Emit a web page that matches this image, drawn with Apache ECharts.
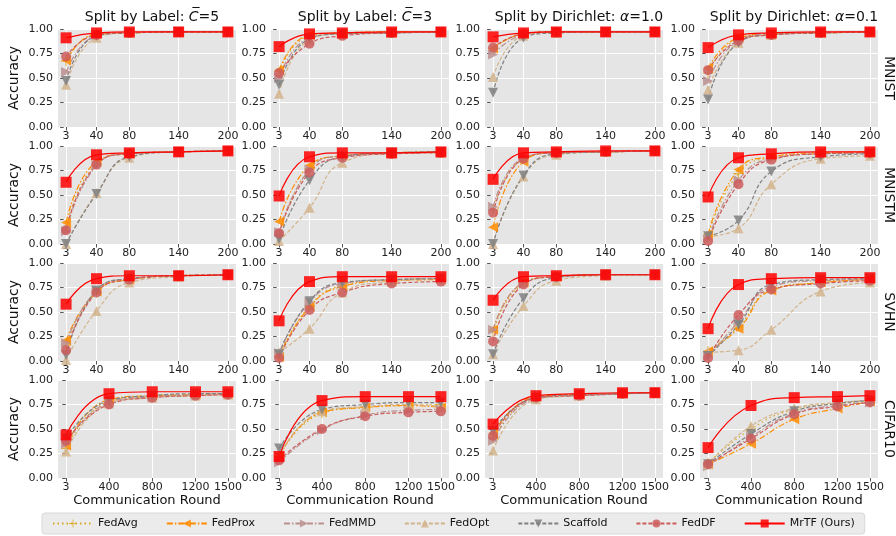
<!DOCTYPE html>
<html>
<head>
<meta charset="utf-8" />
<title>Accuracy vs communication round</title>
<style>
  body { margin: 0; background: #fff; }
  #chart { width: 896px; height: 536px; }
</style>
<script src="https://cdn.jsdelivr.net/npm/echarts@6/dist/echarts.min.js"></script>
</head>
<body>
<div id="chart"></div>
<script>
// x axis rounds (CIFAR10 row uses the long schedule)
var roundsShort = [3, 40, 80, 140, 200];
var roundsLong = [3, 400, 800, 1200, 1500];

var datasets = ['MNIST', 'MNISTM', 'SVHN', 'CIFAR10'];
var splitTitles = [
    '{n|Split by Label: }{i|C\u0305}{n|=5}',
    '{n|Split by Label: }{i|C\u0305}{n|=3}',
    '{n|Split by Dirichlet: }{i|\u03b1}{n|=1.0}',
    '{n|Split by Dirichlet: }{i|\u03b1}{n|=0.1}'
];

// accuracy per method, one row per panel (MNIST x 4 splits, MNISTM x 4, SVHN x 4, CIFAR10 x 4)
var fedAvg = [
    [0.67, 0.95, 0.96, 0.97, 0.97], [0.57, 0.93, 0.96, 0.97, 0.97], [0.80, 0.95, 0.97, 0.97, 0.97], [0.55, 0.90, 0.95, 0.96, 0.97],
    [0.17, 0.82, 0.92, 0.94, 0.95], [0.08, 0.77, 0.90, 0.93, 0.94], [0.35, 0.87, 0.93, 0.94, 0.95], [0.08, 0.72, 0.88, 0.92, 0.93],
    [0.16, 0.70, 0.83, 0.87, 0.88], [0.05, 0.56, 0.77, 0.83, 0.84], [0.30, 0.79, 0.86, 0.88, 0.88], [0.10, 0.35, 0.73, 0.80, 0.83],
    [0.30, 0.78, 0.83, 0.85, 0.86], [0.22, 0.66, 0.72, 0.74, 0.75], [0.40, 0.82, 0.85, 0.86, 0.87], [0.15, 0.50, 0.70, 0.76, 0.78]
];
var fedProx = [
    [0.68, 0.95, 0.96, 0.97, 0.97], [0.58, 0.94, 0.96, 0.97, 0.97], [0.80, 0.95, 0.97, 0.97, 0.97], [0.60, 0.91, 0.95, 0.96, 0.97],
    [0.22, 0.84, 0.92, 0.94, 0.95], [0.23, 0.80, 0.90, 0.93, 0.94], [0.17, 0.84, 0.93, 0.94, 0.95], [0.10, 0.76, 0.89, 0.93, 0.94],
    [0.21, 0.71, 0.83, 0.87, 0.88], [0.04, 0.55, 0.76, 0.82, 0.83], [0.32, 0.80, 0.86, 0.88, 0.88], [0.10, 0.33, 0.72, 0.80, 0.83],
    [0.33, 0.80, 0.84, 0.85, 0.86], [0.22, 0.67, 0.72, 0.74, 0.72], [0.45, 0.83, 0.85, 0.86, 0.87], [0.14, 0.35, 0.60, 0.71, 0.78]
];
var fedMMD = [
    [0.56, 0.93, 0.96, 0.97, 0.97], [0.50, 0.91, 0.95, 0.96, 0.97], [0.74, 0.94, 0.97, 0.97, 0.97], [0.47, 0.88, 0.95, 0.96, 0.97],
    [0.13, 0.80, 0.92, 0.94, 0.95], [0.12, 0.76, 0.90, 0.93, 0.94], [0.38, 0.88, 0.93, 0.94, 0.95], [0.05, 0.65, 0.87, 0.92, 0.93],
    [0.18, 0.72, 0.84, 0.87, 0.88], [0.08, 0.60, 0.79, 0.83, 0.84], [0.32, 0.80, 0.86, 0.88, 0.88], [0.05, 0.40, 0.76, 0.82, 0.83],
    [0.35, 0.77, 0.83, 0.85, 0.86], [0.16, 0.49, 0.64, 0.69, 0.70], [0.38, 0.81, 0.84, 0.86, 0.87], [0.12, 0.42, 0.66, 0.74, 0.77]
];
var fedOpt = [
    [0.43, 0.91, 0.96, 0.97, 0.97], [0.34, 0.89, 0.95, 0.96, 0.97], [0.51, 0.93, 0.96, 0.97, 0.97], [0.38, 0.86, 0.94, 0.96, 0.97],
    [0.00, 0.52, 0.88, 0.94, 0.95], [0.03, 0.37, 0.83, 0.92, 0.93], [0.00, 0.69, 0.91, 0.94, 0.95], [0.08, 0.16, 0.61, 0.87, 0.90],
    [0.01, 0.51, 0.80, 0.86, 0.88], [0.09, 0.33, 0.70, 0.81, 0.84], [0.07, 0.56, 0.82, 0.87, 0.88], [0.09, 0.11, 0.32, 0.71, 0.80],
    [0.27, 0.76, 0.82, 0.84, 0.85], [0.22, 0.68, 0.73, 0.75, 0.73], [0.28, 0.80, 0.84, 0.86, 0.87], [0.14, 0.53, 0.71, 0.77, 0.79]
];
var scaffold = [
    [0.47, 0.93, 0.96, 0.97, 0.97], [0.43, 0.90, 0.95, 0.96, 0.97], [0.35, 0.91, 0.96, 0.97, 0.97], [0.28, 0.86, 0.94, 0.96, 0.97],
    [0.00, 0.51, 0.89, 0.94, 0.95], [0.05, 0.65, 0.89, 0.93, 0.94], [0.00, 0.70, 0.92, 0.94, 0.95], [0.08, 0.24, 0.74, 0.89, 0.92],
    [0.06, 0.72, 0.84, 0.87, 0.88], [0.07, 0.61, 0.80, 0.83, 0.84], [0.07, 0.64, 0.85, 0.88, 0.88], [0.05, 0.37, 0.78, 0.83, 0.84],
    [0.40, 0.79, 0.84, 0.86, 0.86], [0.30, 0.70, 0.75, 0.77, 0.77], [0.48, 0.82, 0.85, 0.86, 0.87], [0.14, 0.45, 0.68, 0.76, 0.79]
];
var fedDF = [
    [0.72, 0.94, 0.96, 0.97, 0.97], [0.55, 0.85, 0.93, 0.96, 0.97], [0.81, 0.95, 0.97, 0.97, 0.97], [0.58, 0.88, 0.94, 0.96, 0.97],
    [0.14, 0.81, 0.92, 0.94, 0.95], [0.11, 0.73, 0.88, 0.92, 0.93], [0.32, 0.87, 0.93, 0.94, 0.95], [0.03, 0.61, 0.86, 0.92, 0.93],
    [0.11, 0.70, 0.83, 0.87, 0.88], [0.03, 0.52, 0.70, 0.79, 0.81], [0.20, 0.78, 0.86, 0.88, 0.88], [0.03, 0.47, 0.73, 0.79, 0.82],
    [0.38, 0.75, 0.82, 0.84, 0.85], [0.18, 0.50, 0.63, 0.67, 0.68], [0.43, 0.82, 0.84, 0.86, 0.87], [0.14, 0.40, 0.65, 0.73, 0.77]
];
var mrTF = [
    [0.91, 0.96, 0.97, 0.97, 0.97], [0.82, 0.95, 0.96, 0.97, 0.97], [0.92, 0.96, 0.97, 0.97, 0.97], [0.81, 0.94, 0.96, 0.97, 0.97],
    [0.63, 0.91, 0.93, 0.94, 0.95], [0.49, 0.89, 0.93, 0.93, 0.94], [0.66, 0.93, 0.94, 0.95, 0.95], [0.48, 0.88, 0.92, 0.94, 0.94],
    [0.58, 0.84, 0.87, 0.87, 0.88], [0.41, 0.81, 0.86, 0.86, 0.86], [0.62, 0.86, 0.87, 0.88, 0.88], [0.33, 0.78, 0.84, 0.85, 0.85],
    [0.44, 0.86, 0.88, 0.88, 0.88], [0.22, 0.79, 0.83, 0.83, 0.83], [0.55, 0.84, 0.86, 0.87, 0.87], [0.31, 0.74, 0.82, 0.83, 0.84]
];

var plusPath = 'path://M4.5,0h1v10h-1zM0,4.5h10v1h-10z';
var methods = [
    { name: 'FedAvg', data: fedAvg, color: '#daa520', dash: [1.5, 3], symbol: plusPath, rotate: 0, size: 10 },
    { name: 'FedProx', data: fedProx, color: '#ff8c00', dash: [6, 2, 1.5, 2], symbol: 'triangle', rotate: 90, size: 10 },
    { name: 'FedMMD', data: fedMMD, color: '#bc8f8f', dash: [6, 2, 1.5, 2], symbol: 'triangle', rotate: -90, size: 10 },
    { name: 'FedOpt', data: fedOpt, color: '#d2b48c', dash: [4, 2], symbol: 'triangle', rotate: 0, size: 10 },
    { name: 'Scaffold', data: scaffold, color: '#808080', dash: [4, 2], symbol: 'triangle', rotate: 180, size: 10 },
    { name: 'FedDF', data: fedDF, color: '#cd5c5c', dash: [4, 2], symbol: 'circle', rotate: 0, size: 10 },
    { name: 'MrTF (Ours)', data: mrTF, color: '#ff0000', dash: 'solid', symbol: 'rect', rotate: 0, size: 11 }
];

var colLeft = [58, 271, 485, 700];
var rowTop = [29, 146, 263, 380];
var plotW = 178, plotH = 98;
var font = 'DejaVu Sans';

var grids = [], xAxes = [], yAxes = [], series = [], titles = [], graphics = [];

for (var r = 0; r < 4; r++) {
    var rounds = r === 3 ? roundsLong : roundsShort;
    var span = rounds[rounds.length - 1] - rounds[0];
    for (var c = 0; c < 4; c++) {
        var g = r * 4 + c;
        grids.push({
            left: colLeft[c], top: rowTop[r], width: plotW, height: plotH,
            show: true, backgroundColor: '#e5e5e5', borderWidth: 0
        });
        xAxes.push({
            type: 'value', gridIndex: g,
            min: rounds[0] - span * 0.05, max: rounds[rounds.length - 1] + span * 0.05,
            axisLine: { show: false },
            axisTick: { show: true, length: 3.5, customValues: rounds, lineStyle: { color: '#555' } },
            axisLabel: {
                customValues: rounds, fontSize: 11, color: '#222', fontFamily: font, margin: 4,
                formatter: function (v) { return String(v); }
            },
            splitLine: { show: true, lineStyle: { color: '#fff', width: 1 } },
            name: r === 3 ? 'Communication Round' : '',
            nameLocation: 'middle', nameGap: 16,
            nameTextStyle: { fontSize: 13, color: '#111', fontFamily: font }
        });
        yAxes.push({
            type: 'value', gridIndex: g, min: 0, max: 1, interval: 0.25,
            axisLine: { show: false },
            axisTick: { show: true, length: 3.5, lineStyle: { color: '#555' } },
            axisLabel: {
                fontSize: 11, color: '#222', fontFamily: font, margin: 5,
                formatter: function (v) { return v.toFixed(2); }
            },
            splitLine: { show: true, lineStyle: { color: '#fff', width: 1 } },
            name: c === 0 ? 'Accuracy' : '',
            nameLocation: 'middle', nameGap: 37,
            nameTextStyle: { fontSize: 14, color: '#111', fontFamily: font }
        });
        methods.forEach(function (m) {
            series.push({
                name: m.name, type: 'line', xAxisIndex: g, yAxisIndex: g,
                data: rounds.map(function (x, i) { return [x, m.data[g][i]]; }),
                smooth: 0.5,
                symbol: m.symbol, symbolSize: m.size, symbolRotate: m.rotate,
                itemStyle: { color: m.color, opacity: 0.85 },
                lineStyle: { color: m.color, width: 1.2, type: m.dash },
                emphasis: { disabled: true },
                animation: false
            });
        });
    }
}

for (var c = 0; c < 4; c++) {
    titles.push({
        text: splitTitles[c],
        left: colLeft[c] + plotW / 2, top: 5, textAlign: 'center',
        textStyle: {
            rich: {
                n: { fontSize: 14, color: '#111', fontFamily: font, fontWeight: 'normal' },
                i: { fontSize: 14, color: '#111', fontFamily: font, fontWeight: 'normal', fontStyle: 'italic' }
            }
        }
    });
}

datasets.forEach(function (d, r) {
    graphics.push({
        type: 'text', x: 896 - 7, y: rowTop[r] + plotH / 2, rotation: -Math.PI / 2,
        style: { text: d, fontSize: 14, fill: '#111', fontFamily: font, align: 'center', verticalAlign: 'middle' }
    });
});

var chart = echarts.init(document.getElementById('chart'), null, { renderer: 'canvas' });
chart.setOption({
    animation: false,
    textStyle: { fontFamily: font },
    title: titles,
    grid: grids,
    xAxis: xAxes,
    yAxis: yAxes,
    series: series,
    graphic: graphics,
    legend: {
        data: methods.map(function (m) { return m.name; }),
        left: 42, top: 513,
        itemWidth: 40, itemHeight: 10, itemGap: 28,
        padding: [5, 10], backgroundColor: '#ebebeb', borderRadius: 3,
        borderColor: '#d8d8d8', borderWidth: 1,
        textStyle: { fontSize: 11, color: '#111', fontFamily: font }
    }
});
</script>
</body>
</html>
